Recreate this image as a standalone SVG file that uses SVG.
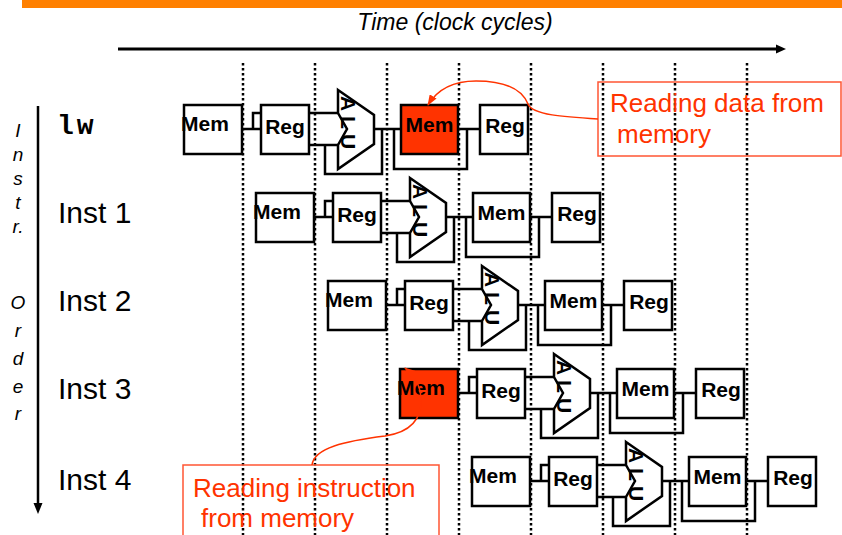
<svg xmlns="http://www.w3.org/2000/svg" width="842" height="535" viewBox="0 0 842 535">
<style>
.box{fill:#fff;stroke:#000;stroke-width:2.5}
.red{fill:#ff3300}
.lbl{font-family:"Liberation Sans",Arial,sans-serif;font-weight:bold;font-size:21px;fill:#000}
.alu{font-family:"Liberation Sans",Arial,sans-serif;font-weight:bold;font-size:21px;fill:#000;letter-spacing:5px}
.conn{fill:none;stroke:#000;stroke-width:2.5}
.dot{stroke:#000;stroke-width:2.5;stroke-dasharray:2.5 2.5}
.call{fill:none;stroke:#ff5533;stroke-width:1.5}
.ctext{font-family:"Liberation Sans",Arial,sans-serif;font-size:26px;fill:#ff3300}
.curve{fill:none;stroke:#ff3300;stroke-width:1.5}
.inst{font-family:"Liberation Sans",Arial,sans-serif;font-size:30px;fill:#000}
.side{font-family:"Liberation Sans",Arial,sans-serif;font-style:italic;font-size:19px;fill:#000}
</style>
<defs>
<marker id="rah" viewBox="0 0 11 8" refX="10" refY="4" markerWidth="11" markerHeight="8" markerUnits="userSpaceOnUse" orient="auto"><path d="M0,0 L11,4 L0,8 z" fill="#ff3300"/></marker>
</defs>
<rect x="22" y="0" width="820" height="8" fill="#ff8000"/>
<text x="455" y="30" text-anchor="middle" font-family="Liberation Sans, Arial, sans-serif" font-style="italic" font-size="23">Time (clock cycles)</text>
<g id="time-axis">
<line x1="118" y1="49" x2="777" y2="49" stroke="#000" stroke-width="3"/>
<polygon points="776,44.5 786,49 776,53.5" fill="#000"/>
</g>
<g id="order-axis">
<line x1="38" y1="106" x2="38" y2="505" stroke="#000" stroke-width="2.5"/>
<polygon points="33.5,503 42.5,503 38,514" fill="#000"/>
</g>
<g id="order-label" class="side" text-anchor="middle">
<text x="18" y="137">I</text>
<text x="18" y="161">n</text>
<text x="18" y="185">s</text>
<text x="18" y="209">t</text>
<text x="18" y="233">r.</text>
<text x="18" y="309">O</text>
<text x="18" y="337">r</text>
<text x="18" y="365">d</text>
<text x="18" y="393">e</text>
<text x="18" y="420">r</text>
</g>
<g id="instr-labels">
<text x="57" y="134" font-family="Liberation Mono, Courier New, monospace" font-weight="bold" font-size="28" letter-spacing="3">lw</text>
<text class="inst" x="58" y="223">Inst 1</text>
<text class="inst" x="58" y="311">Inst 2</text>
<text class="inst" x="58" y="399">Inst 3</text>
<text class="inst" x="58" y="490">Inst 4</text>
</g>
<g id="connectors">
<path class="conn" d="M242,129 H261 M253,129 V113 H261 M309,113 H338 M309,145 H338 M325,145 V174 H382 V129 M374,129 H401 M394,129 V169 H467 V129 M458,129 H480"/>
<path class="conn" transform="translate(72,88)" d="M242,129 H261 M253,129 V113 H261 M309,113 H338 M309,145 H338 M325,145 V174 H382 V129 M374,129 H401 M394,129 V169 H467 V129 M458,129 H480"/>
<path class="conn" transform="translate(144,176)" d="M242,129 H261 M253,129 V113 H261 M309,113 H338 M309,145 H338 M325,145 V174 H382 V129 M374,129 H401 M394,129 V169 H467 V129 M458,129 H480"/>
<path class="conn" transform="translate(216,264)" d="M242,129 H261 M253,129 V113 H261 M309,113 H338 M309,145 H338 M325,145 V174 H382 V129 M374,129 H401 M394,129 V169 H467 V129 M458,129 H480"/>
<path class="conn" transform="translate(288,352)" d="M242,129 H261 M253,129 V113 H261 M309,113 H338 M309,145 H338 M325,145 V174 H382 V129 M374,129 H401 M394,129 V169 H467 V129 M458,129 H480"/>
</g>
<g id="row-lw">
<g id="lw-mem-if"><rect class="box" x="184" y="105" width="58" height="49"/><text class="lbl" x="181" y="131">Mem</text></g>
<g id="lw-reg-id"><rect class="box" x="261" y="105" width="48" height="49"/><text class="lbl" x="285" y="134" text-anchor="middle">Reg</text></g>
<g id="lw-alu"><polygon class="box" points="338,90 374,115 374,144 338,169 338,145 347,129 338,113"/><text class="alu" transform="translate(341,125) rotate(90)" text-anchor="middle">ALU</text></g>
<g id="lw-mem-dm"><rect class="box red" x="401" y="105" width="57" height="49"/><text class="lbl" x="429.5" y="132" text-anchor="middle">Mem</text></g>
<g id="lw-reg-wb"><rect class="box" x="480" y="105" width="48" height="49"/><text class="lbl" x="505" y="133" text-anchor="middle">Reg</text></g>
</g>
<g id="row-inst1" transform="translate(72,88)">
<g id="i1-mem-if"><rect class="box" x="184" y="105" width="58" height="49"/><text class="lbl" x="181" y="131">Mem</text></g>
<g id="i1-reg-id"><rect class="box" x="261" y="105" width="48" height="49"/><text class="lbl" x="285" y="134" text-anchor="middle">Reg</text></g>
<g id="i1-alu"><polygon class="box" points="338,90 374,115 374,144 338,169 338,145 347,129 338,113"/><text class="alu" transform="translate(341,125) rotate(90)" text-anchor="middle">ALU</text></g>
<g id="i1-mem-dm"><rect class="box" x="401" y="105" width="57" height="49"/><text class="lbl" x="429.5" y="132" text-anchor="middle">Mem</text></g>
<g id="i1-reg-wb"><rect class="box" x="480" y="105" width="48" height="49"/><text class="lbl" x="505" y="133" text-anchor="middle">Reg</text></g>
</g>
<g id="row-inst2" transform="translate(144,176)">
<g id="i2-mem-if"><rect class="box" x="184" y="105" width="58" height="49"/><text class="lbl" x="181" y="131">Mem</text></g>
<g id="i2-reg-id"><rect class="box" x="261" y="105" width="48" height="49"/><text class="lbl" x="285" y="134" text-anchor="middle">Reg</text></g>
<g id="i2-alu"><polygon class="box" points="338,90 374,115 374,144 338,169 338,145 347,129 338,113"/><text class="alu" transform="translate(341,125) rotate(90)" text-anchor="middle">ALU</text></g>
<g id="i2-mem-dm"><rect class="box" x="401" y="105" width="57" height="49"/><text class="lbl" x="429.5" y="132" text-anchor="middle">Mem</text></g>
<g id="i2-reg-wb"><rect class="box" x="480" y="105" width="48" height="49"/><text class="lbl" x="505" y="133" text-anchor="middle">Reg</text></g>
</g>
<g id="row-inst3" transform="translate(216,264)">
<g id="i3-mem-if"><rect class="box red" x="184" y="105" width="58" height="49"/><text class="lbl" x="181" y="131">Mem</text></g>
<g id="i3-reg-id"><rect class="box" x="261" y="105" width="48" height="49"/><text class="lbl" x="285" y="134" text-anchor="middle">Reg</text></g>
<g id="i3-alu"><polygon class="box" points="338,90 374,115 374,144 338,169 338,145 347,129 338,113"/><text class="alu" transform="translate(341,125) rotate(90)" text-anchor="middle">ALU</text></g>
<g id="i3-mem-dm"><rect class="box" x="401" y="105" width="57" height="49"/><text class="lbl" x="429.5" y="132" text-anchor="middle">Mem</text></g>
<g id="i3-reg-wb"><rect class="box" x="480" y="105" width="48" height="49"/><text class="lbl" x="505" y="133" text-anchor="middle">Reg</text></g>
</g>
<g id="row-inst4" transform="translate(288,352)">
<g id="i4-mem-if"><rect class="box" x="184" y="105" width="58" height="49"/><text class="lbl" x="181" y="131">Mem</text></g>
<g id="i4-reg-id"><rect class="box" x="261" y="105" width="48" height="49"/><text class="lbl" x="285" y="134" text-anchor="middle">Reg</text></g>
<g id="i4-alu"><polygon class="box" points="338,90 374,115 374,144 338,169 338,145 347,129 338,113"/><text class="alu" transform="translate(341,125) rotate(90)" text-anchor="middle">ALU</text></g>
<g id="i4-mem-dm"><rect class="box" x="401" y="105" width="57" height="49"/><text class="lbl" x="429.5" y="132" text-anchor="middle">Mem</text></g>
<g id="i4-reg-wb"><rect class="box" x="480" y="105" width="48" height="49"/><text class="lbl" x="505" y="133" text-anchor="middle">Reg</text></g>
</g>
<g id="clock-lines">
<line class="dot" x1="243" y1="63" x2="243" y2="535"/>
<line class="dot" x1="315" y1="63" x2="315" y2="535"/>
<line class="dot" x1="387" y1="63" x2="387" y2="535"/>
<line class="dot" x1="459" y1="63" x2="459" y2="535"/>
<line class="dot" x1="531" y1="63" x2="531" y2="535"/>
<line class="dot" x1="603" y1="63" x2="603" y2="535"/>
<line class="dot" x1="675" y1="63" x2="675" y2="535"/>
<line class="dot" x1="747" y1="63" x2="747" y2="535"/>
</g>
<g id="callout-data">
<rect class="call" x="598" y="82" width="243" height="74"/>
<text class="ctext" x="610" y="112">Reading data from</text>
<text class="ctext" x="617" y="143">memory</text>
<path class="curve" marker-end="url(#rah)" d="M598,119 C565,117 532,115 528,104 C521,87 500,81 476,81 C453,81 437,90 428,105"/>
</g>
<g id="callout-instr">
<rect class="call" x="183" y="465" width="256" height="80"/>
<text class="ctext" x="193" y="497">Reading instruction</text>
<text class="ctext" x="201" y="527">from memory</text>
<path class="curve" marker-end="url(#rah)" d="M312,465 C314,448 345,441 385,436 C412,432 422,418 421,398 C420,384 414,375 405,368"/>
</g>
</svg>
